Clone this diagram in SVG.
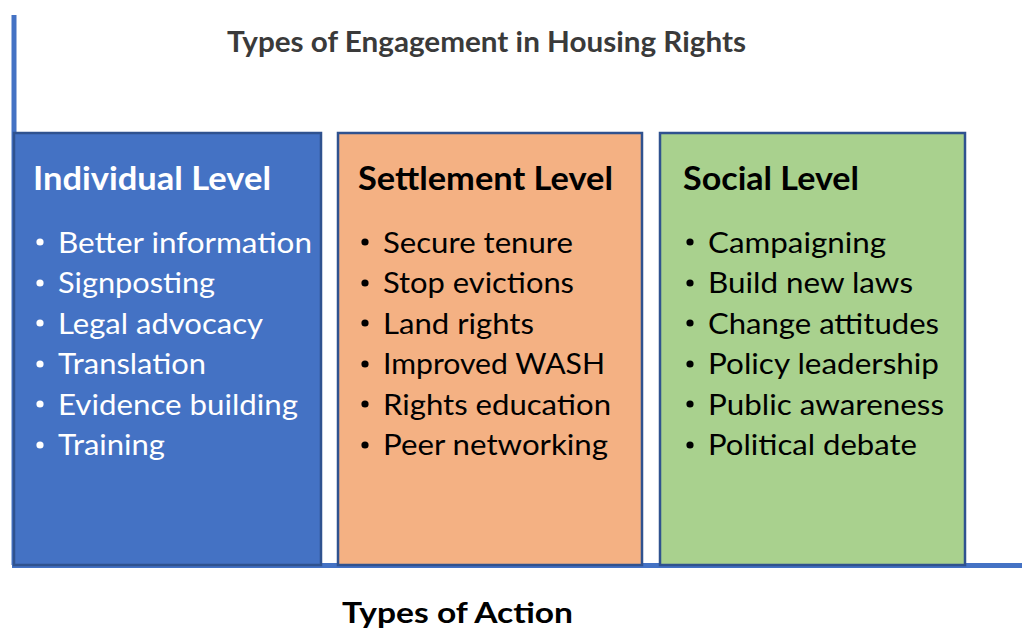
<svg xmlns="http://www.w3.org/2000/svg" width="1022" height="628" viewBox="0 0 1022 628">
  <style>
    .axis { stroke: #4472C4; stroke-width: 5; fill: none; }
    .box { stroke: #2F528F; stroke-width: 2.5; }
    .t { font-family: Lato, "Open Sans", "Liberation Sans", sans-serif; }
    .title { font-size: 28px; font-weight: bold; fill: #3A3A3A; }
    .xlabel { font-size: 29px; font-weight: bold; fill: #000000; }
    .head { font-size: 32px; font-weight: bold; }
    .item { font-size: 28px; }
    .light { fill: #FFFFFF; }
    .dark { fill: #000000; }
  </style>
  <rect width="1022" height="628" fill="#FFFFFF"/>

  <!-- axes -->
  <g id="axes">
    <line class="axis" x1="14" y1="15" x2="14" y2="565"/>
    <line class="axis" x1="12" y1="565.5" x2="1022" y2="565.5"/>
  </g>

  <text class="t title" x="227" y="52" textLength="519" lengthAdjust="spacingAndGlyphs">Types of Engagement in Housing Rights</text>

  <!-- Individual level -->
  <g id="individual">
    <rect class="box" x="14" y="133" width="307" height="432" fill="#4472C4"/>
    <text class="t head light" x="33" y="190" textLength="238" lengthAdjust="spacingAndGlyphs">Individual Level</text>
    <g class="t item light">
      <circle cx="40" cy="242" r="3.6" fill="#FFFFFF"/>
      <circle cx="40" cy="283" r="3.6" fill="#FFFFFF"/>
      <circle cx="40" cy="323" r="3.6" fill="#FFFFFF"/>
      <circle cx="40" cy="364" r="3.6" fill="#FFFFFF"/>
      <circle cx="40" cy="404" r="3.6" fill="#FFFFFF"/>
      <circle cx="40" cy="445" r="3.6" fill="#FFFFFF"/>
      <text x="58" y="253" textLength="254" lengthAdjust="spacingAndGlyphs">Better information</text>
      <text x="58" y="293" textLength="157" lengthAdjust="spacingAndGlyphs">Signposting</text>
      <text x="58" y="334" textLength="205" lengthAdjust="spacingAndGlyphs">Legal advocacy</text>
      <text x="58" y="374" textLength="148" lengthAdjust="spacingAndGlyphs">Translation</text>
      <text x="58" y="415" textLength="240" lengthAdjust="spacingAndGlyphs">Evidence building</text>
      <text x="58" y="455" textLength="107" lengthAdjust="spacingAndGlyphs">Training</text>
    </g>
  </g>

  <!-- Settlement level -->
  <g id="settlement">
    <rect class="box" x="338" y="133" width="304" height="432" fill="#F4B183"/>
    <text class="t head dark" x="358" y="190" textLength="255" lengthAdjust="spacingAndGlyphs">Settlement Level</text>
    <g class="t item dark">
      <circle cx="365" cy="242" r="3.6" fill="#000000"/>
      <circle cx="365" cy="283" r="3.6" fill="#000000"/>
      <circle cx="365" cy="323" r="3.6" fill="#000000"/>
      <circle cx="365" cy="364" r="3.6" fill="#000000"/>
      <circle cx="365" cy="404" r="3.6" fill="#000000"/>
      <circle cx="365" cy="445" r="3.6" fill="#000000"/>
      <text x="383" y="253" textLength="190" lengthAdjust="spacingAndGlyphs">Secure tenure</text>
      <text x="383" y="293" textLength="191" lengthAdjust="spacingAndGlyphs">Stop evictions</text>
      <text x="383" y="334" textLength="151" lengthAdjust="spacingAndGlyphs">Land rights</text>
      <text x="383" y="374" textLength="222" lengthAdjust="spacingAndGlyphs">Improved WASH</text>
      <text x="383" y="415" textLength="228" lengthAdjust="spacingAndGlyphs">Rights education</text>
      <text x="383" y="455" textLength="225" lengthAdjust="spacingAndGlyphs">Peer networking</text>
    </g>
  </g>

  <!-- Social level -->
  <g id="social">
    <rect class="box" x="660" y="133" width="305" height="432" fill="#A9D18E"/>
    <text class="t head dark" x="683" y="190" textLength="176" lengthAdjust="spacingAndGlyphs">Social Level</text>
    <g class="t item dark">
      <circle cx="690" cy="242" r="3.6" fill="#000000"/>
      <circle cx="690" cy="283" r="3.6" fill="#000000"/>
      <circle cx="690" cy="323" r="3.6" fill="#000000"/>
      <circle cx="690" cy="364" r="3.6" fill="#000000"/>
      <circle cx="690" cy="404" r="3.6" fill="#000000"/>
      <circle cx="690" cy="445" r="3.6" fill="#000000"/>
      <text x="708" y="253" textLength="178" lengthAdjust="spacingAndGlyphs">Campaigning</text>
      <text x="708" y="293" textLength="205" lengthAdjust="spacingAndGlyphs">Build new laws</text>
      <text x="708" y="334" textLength="231" lengthAdjust="spacingAndGlyphs">Change attitudes</text>
      <text x="708" y="374" textLength="231" lengthAdjust="spacingAndGlyphs">Policy leadership</text>
      <text x="708" y="415" textLength="236" lengthAdjust="spacingAndGlyphs">Public awareness</text>
      <text x="708" y="455" textLength="209" lengthAdjust="spacingAndGlyphs">Political debate</text>
    </g>
  </g>

  <text class="t xlabel" x="342" y="623" textLength="231" lengthAdjust="spacingAndGlyphs">Types of Action</text>
</svg>
